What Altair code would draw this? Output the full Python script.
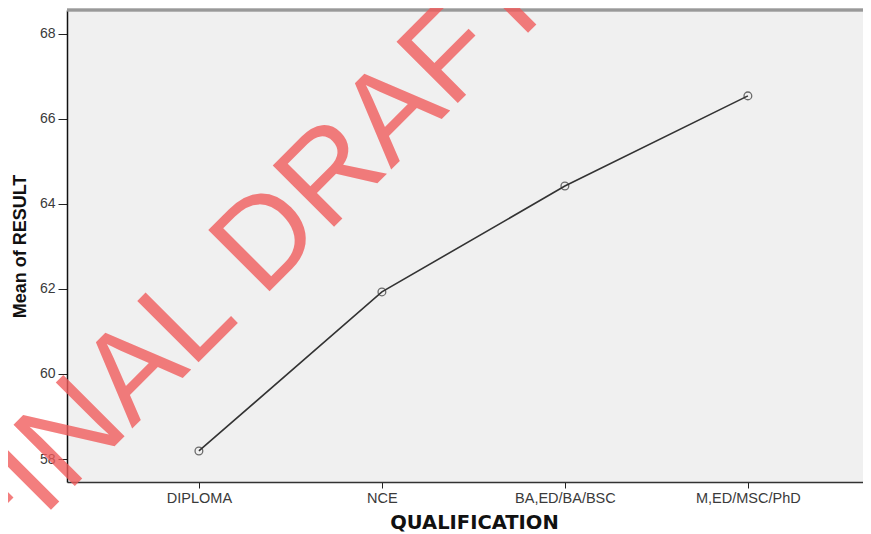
import altair as alt
import pandas as pd

qualifications = ["DIPLOMA", "NCE", "BA,ED/BA/BSC", "M,ED/MSC/PhD"]
mean_result = [58.19, 61.93, 64.42, 66.54]
y_ticks = [58, 60, 62, 64, 66, 68]
watermark = "FINAL DRAFT"

df = pd.DataFrame({"QUALIFICATION": qualifications, "RESULT": mean_result})

W, H = 796, 472

x_enc = alt.X(
    "QUALIFICATION:N",
    sort=qualifications,
    scale=alt.Scale(type="point", padding=0.675, align=0.534),
    axis=alt.Axis(
        title="QUALIFICATION",
        labelAngle=0,
        labelFont="Liberation Sans",
        labelFontSize=14.5,
        labelColor="#3a3a3a",
        labelPadding=3,
        tickSize=6,
        tickColor="#222",
        domainColor="#333",
        domainWidth=1.5,
        titleFont="DejaVu Sans",
        titleFontWeight="bold",
        titleFontSize=19.5,
        titleColor="#111",
        titlePadding=9,
        titleX=407,
        titleAlign="center",
        grid=False,
    ),
)
y_enc = alt.Y(
    "RESULT:Q",
    scale=alt.Scale(domain=[57.46, 68.56], nice=False, zero=False),
    axis=alt.Axis(
        title="Mean of RESULT",
        values=y_ticks,
        labelFont="Liberation Sans",
        labelFontSize=14,
        labelColor="#3a3a3a",
        labelPadding=3,
        tickSize=9,
        tickColor="#222",
        domainColor="#111",
        domainWidth=1.5,
        titleFont="Liberation Sans",
        titleFontWeight="bold",
        titleFontSize=18,
        titleColor="#111",
        titlePadding=10,
        grid=False,
    ),
)

line = alt.Chart(df).mark_line(color="#333333", strokeWidth=1.6).encode(x=x_enc, y=y_enc)
pts = alt.Chart(df).mark_point(
    shape="circle", filled=False, size=60, color="#333333", strokeWidth=1.3
).encode(x=x_enc, y=y_enc)

top_border = alt.Chart(df).mark_rule(color="#999999", strokeWidth=2.5).encode(
    x=alt.value(0), x2=alt.value(W), y=alt.value(0)
)

wm = alt.Chart(pd.DataFrame({"t": [watermark]})).mark_text(
    font="Liberation Sans",
    fontSize=126,
    angle=315,
    align="center",
    baseline="middle",
    color="#f05a5a",
    opacity=0.78,
).encode(text="t:N", x=alt.value(180), y=alt.value(250))

chart = (
    alt.layer(top_border, line, pts, wm)
    .properties(
        width=W,
        height=H,
        autosize=alt.AutoSizeParams(type="none"),
        padding={"left": 59, "top": 2, "right": 0, "bottom": 52},
        background="white",
    )
    .configure_view(fill="#f0f0f0", strokeWidth=0)
)

chart.save("out.html", embed_options={"renderer": "svg", "actions": False})
